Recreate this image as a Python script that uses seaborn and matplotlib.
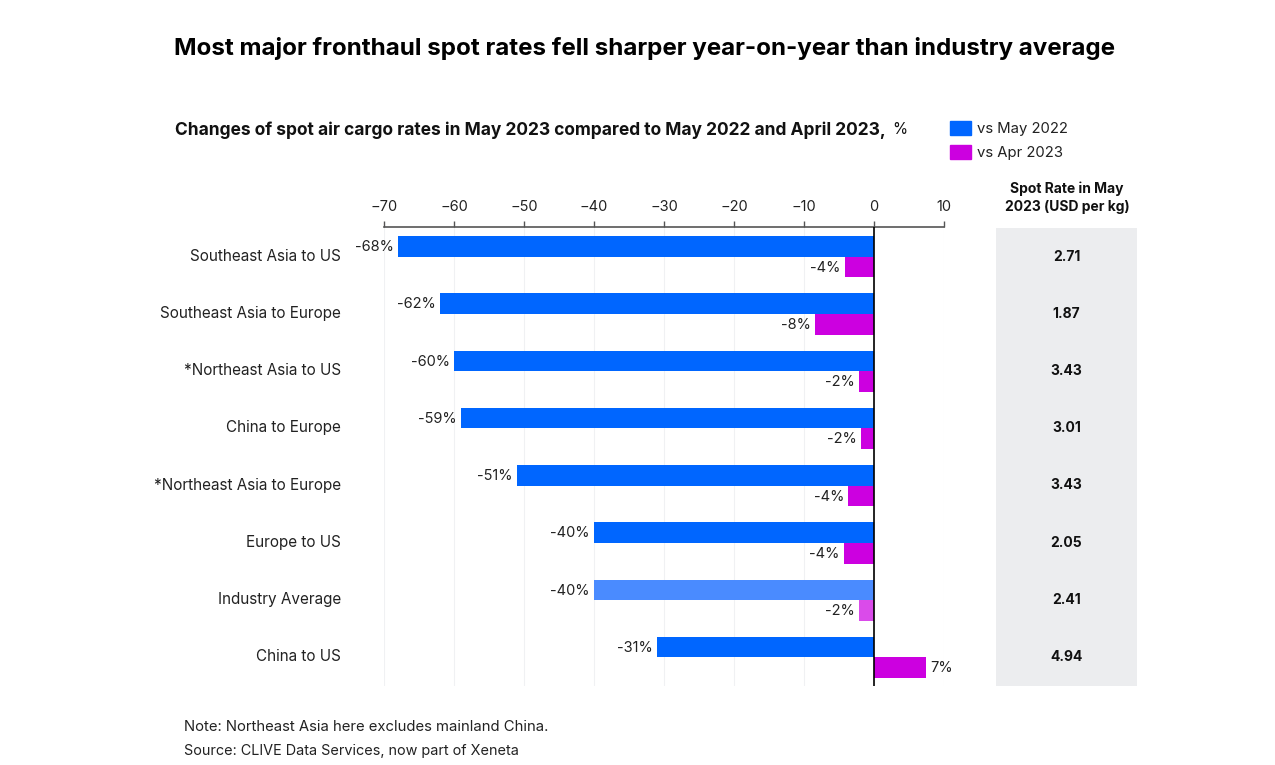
import pandas as pd
import matplotlib.pyplot as plt
import seaborn as sns
from matplotlib.transforms import ScaledTranslation

# Values
routes = ['Southeast Asia to US', 'Southeast Asia to Europe', '*Northeast Asia to US', 'China to Europe',
          '*Northeast Asia to Europe', 'Europe to US', 'Industry Average', 'China to US']
vs_may_2022 = [-68, -62, -60, -59, -51, -40, -40, -31]
vs_apr_2023 = [-4.2, -8.4, -2.2, -1.9, -3.7, -4.3, -2.2, 7.4]
spot_rates = ['2.71', '1.87', '3.43', '3.01', '3.43', '2.05', '2.41', '4.94']
x_ticks = [-70, -60, -50, -40, -30, -20, -10, 0, 10]

W, H = 1275, 765
BLUE = '#0066FF'
MAGENTA = '#CC00E0'
FONT = 'Inter'

sns.set_theme(style='white')
plt.rcParams['font.family'] = [FONT, 'DejaVu Sans']


def axes_box(left, top, right, bottom):
    # pixel box to figure fractions
    return [left / W, 1 - bottom / H, (right - left) / W, (bottom - top) / H]


df = pd.DataFrame({'route': routes, 'vs May 2022': vs_may_2022, 'vs Apr 2023': vs_apr_2023})
long_df = df.melt(id_vars='route', var_name='series', value_name='change')

fig = plt.figure(figsize=(W / 100, H / 100), dpi=100, facecolor='white')
ax = fig.add_axes(axes_box(384, 227, 944, 686))

sns.barplot(data=long_df, y='route', x='change', hue='series', order=routes,
            hue_order=['vs May 2022', 'vs Apr 2023'], palette=[BLUE, MAGENTA],
            width=0.72, dodge=True, saturation=1, linewidth=0, legend=False, ax=ax)

ax.set_xlim(-70, 10)
ax.set_ylim(7.5, -0.52)
ax.set_xlabel('')
ax.set_ylabel('')

# Industry Average row is lighter
ax.containers[0][6].set_facecolor('#4A8BFF')
ax.containers[1][6].set_facecolor('#DA4BEA')

# value labels
for cont in ax.containers:
    for bar in cont:
        v = bar.get_width()
        ax.annotate(f'{v:.0f}%', (v, bar.get_y() + bar.get_height() / 2),
                    xytext=(3.5 if v > 0 else -3, -0.5), textcoords='offset points',
                    ha='left' if v > 0 else 'right', va='center', fontsize=10.5, color='#222222')

ax.xaxis.tick_top()
ax.set_xticks(x_ticks)
ax.set_xticklabels([str(t).replace('-', '\u2212') for t in x_ticks], fontsize=10.5, color='#222222')
ax.tick_params(axis='x', length=4, width=1, color='#555555', pad=5.5, top=True, bottom=False)
ax.tick_params(axis='y', length=0, pad=31, labelsize=11, labelcolor='#222222')
for label in ax.get_yticklabels():
    label.set_transform(label.get_transform() + ScaledTranslation(0, 2 / 100, fig.dpi_scale_trans))
ax.xaxis.grid(True, color='#F0F1F3', linewidth=0.8)
ax.set_axisbelow(True)
ax.axvline(0, color='black', linewidth=1.2, zorder=5)
for side in ['left', 'right', 'bottom']:
    ax.spines[side].set_visible(False)
ax.spines['top'].set_color('#555555')
ax.spines['top'].set_linewidth(1.2)

# Spot rate panel
panel = fig.add_axes(axes_box(996, 228, 1137, 686), sharey=ax)
panel.set_facecolor('#ECEDEF')
panel.set_xlim(0, 1)
panel.tick_params(left=False, bottom=False, labelleft=False, labelbottom=False)
for spine in panel.spines.values():
    spine.set_visible(False)
for i, rate in enumerate(spot_rates):
    panel.annotate(rate, (0.5, i), xytext=(0, 0.5), textcoords='offset points', ha='center', va='center',
                   fontsize=10, fontweight='bold', color='#111111')


def fig_text(x, y, s, **kw):
    return fig.text(x / W, 1 - y / H, s, **kw)


fig_text(644, 49, 'Most major fronthaul spot rates fell sharper year-on-year than industry average',
         ha='center', va='center', fontsize=17.4, fontweight='bold', color='black')
fig_text(175, 130, 'Changes of spot air cargo rates in May 2023 compared to May 2022 and April 2023,',
         ha='left', va='center', fontsize=12.5, fontweight='bold', color='#111111')
fig_text(892, 130, '%', ha='left', va='center', fontsize=11, color='#111111')
fig_text(1067, 198, 'Spot Rate in May\n2023 (USD per kg)', ha='center', va='center', fontsize=10,
         fontweight='bold', color='#111111', linespacing=1.35)

# Legend
handles = [plt.Rectangle((0, 0), 1, 1, color=BLUE), plt.Rectangle((0, 0), 1, 1, color=MAGENTA)]
fig.legend(handles, ['vs May 2022', 'vs Apr 2023'], loc='upper left', bbox_to_anchor=(950 / W, 1 - 121 / H),
           frameon=False, fontsize=10.7, handlelength=1.42, handleheight=1.05, handletextpad=0.4,
           labelspacing=0.6, borderaxespad=0, borderpad=0, labelcolor='#222222')

fig_text(184, 727, 'Note: Northeast Asia here excludes mainland China.', ha='left', va='center',
         fontsize=10.7, color='#222222')
fig_text(184, 751, 'Source: CLIVE Data Services, now part of Xeneta', ha='left', va='center',
         fontsize=10.4, color='#222222')

fig.savefig('out.png', dpi=100)
plt.close(fig)
